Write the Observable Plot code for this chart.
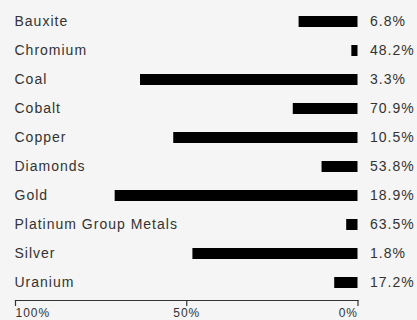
<!DOCTYPE html>
<html>
<head>
<meta charset="utf-8">
<script src="https://cdn.jsdelivr.net/npm/d3@7"></script>
<script src="https://cdn.jsdelivr.net/npm/@observablehq/plot@0.6"></script>
<style>
  html, body { margin: 0; padding: 0; background: #f5f5f5; }
  #chart svg { display: block; background: #f5f5f5; }
  #chart svg text { letter-spacing: 1px; }
</style>
</head>
<body>
<div id="chart"></div>
<script>
const categories = ["Bauxite", "Chromium", "Coal", "Cobalt", "Copper", "Diamonds", "Gold", "Platinum Group Metals", "Silver", "Uranium"];
const barValues = [17.2, 1.8, 63.5, 18.9, 53.8, 10.5, 70.9, 3.3, 48.2, 6.8];
const labelValues = ["6.8%", "48.2%", "3.3%", "70.9%", "10.5%", "53.8%", "18.9%", "63.5%", "1.8%", "17.2%"];
const tickValues = [100, 50, 0];
const tickLabels = ["100%", "50%", "0%"];

const data = categories.map((c, i) => ({category: c, value: barValues[i], label: labelValues[i]}));
const font = "'Liberation Sans', Arial, Helvetica, sans-serif";
const ink = "#333";

const chart = Plot.plot({
  width: 417,
  height: 320,
  marginLeft: 15,
  marginRight: 59.5,
  marginTop: 6,
  marginBottom: 20,
  style: {background: "#f5f5f5", fontFamily: font, color: ink},
  x: {domain: [0, 100], reverse: true, axis: null},
  y: {domain: categories, range: [6, 298], paddingInner: 0.62, paddingOuter: 0.31, axis: null},
  marks: [
    Plot.barX(data, {y: "category", x1: 0, x2: "value", fill: "#000"}),
    Plot.text(data, {y: "category", x: () => 100, text: "category", textAnchor: "start", dx: -1, fontSize: 14, fill: ink}),
    Plot.text(data, {y: "category", x: () => 0, text: "label", textAnchor: "start", dx: 12, fontSize: 14, fill: ink}),
    Plot.frame({anchor: "bottom", stroke: ink, strokeWidth: 1.2}),
    Plot.axisX({ticks: [tickValues[0]], tickFormat: () => tickLabels[0], tickSize: 6, tickPadding: 2, textAnchor: "start", fontSize: 12, label: null, stroke: ink, fill: ink, strokeWidth: 1.2}),
    Plot.axisX({ticks: [tickValues[1]], tickFormat: () => tickLabels[1], tickSize: 6, tickPadding: 2, textAnchor: "middle", fontSize: 12, label: null, stroke: ink, fill: ink, strokeWidth: 1.2}),
    Plot.axisX({ticks: [tickValues[2]], tickFormat: () => tickLabels[2], tickSize: 6, tickPadding: 2, textAnchor: "end", fontSize: 12, label: null, stroke: ink, fill: ink, strokeWidth: 1.2})
  ]
});
document.getElementById("chart").appendChild(chart);
</script>
</body>
</html>
